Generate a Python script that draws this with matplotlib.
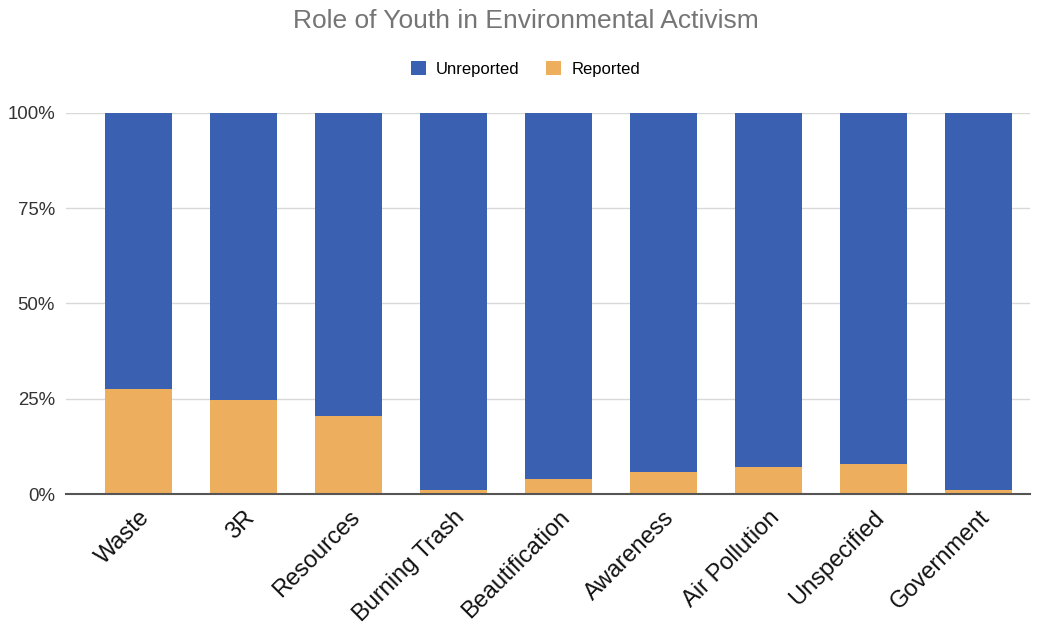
import matplotlib.pyplot as plt
import numpy as np

categories = ['Waste', '3R', 'Resources', 'Burning Trash', 'Beautification',
              'Awareness', 'Air Pollution', 'Unspecified', 'Government']
reported = [27.6, 24.8, 20.6, 1.1, 3.9, 5.7, 7.1, 7.8, 1.1]
unreported = [100 - r for r in reported]

plt.rcParams['font.family'] = ['Liberation Sans', 'DejaVu Sans']

blue = '#3a61b1'
orange = '#edae5e'

fig = plt.figure(figsize=(10.41, 6.29), dpi=100)
ax = fig.add_axes([66 / 1041, 0.2146, (1030 - 66) / 1041, 0.6058])

x = np.arange(len(categories))
bar_width = 0.64
ax.bar(x, reported, width=bar_width, color=orange, label='Reported', zorder=3)
ax.bar(x, unreported, width=bar_width, bottom=reported, color=blue,
       label='Unreported', zorder=3)

ax.set_ylim(0, 100)
ax.set_xlim(-0.69, len(categories) - 0.51)
ax.set_yticks([0, 25, 50, 75, 100])
ax.set_yticklabels(['0%', '25%', '50%', '75%', '100%'], fontsize=13.4, color='#333333')
ax.set_xticks(x)
ax.set_xticklabels(categories, rotation=45, ha='right', va='top',
                   rotation_mode='anchor', fontsize=17, color='#111111')
ax.tick_params(axis='both', length=0)
ax.tick_params(axis='x', pad=9)
ax.tick_params(axis='y', pad=8)
ax.yaxis.grid(True, color='#d9d9d9', linewidth=1, zorder=0)
for s in ['top', 'right', 'left']:
    ax.spines[s].set_visible(False)
ax.spines['bottom'].set_color('#555555')
ax.spines['bottom'].set_linewidth(1.5)
ax.spines['bottom'].set_zorder(4)

fig.text(0.505, 0.967, 'Role of Youth in Environmental Activism', ha='center',
         va='center', fontsize=19, color='#757575')

handles, labels = ax.get_legend_handles_labels()
fig.legend(handles[::-1], labels[::-1], loc='center', bbox_to_anchor=(0.505, 0.89),
           ncol=2, frameon=False, fontsize=12, handlelength=0.9, handleheight=0.9,
           columnspacing=1.6, handletextpad=0.6)

plt.savefig('out.png', dpi=100)
